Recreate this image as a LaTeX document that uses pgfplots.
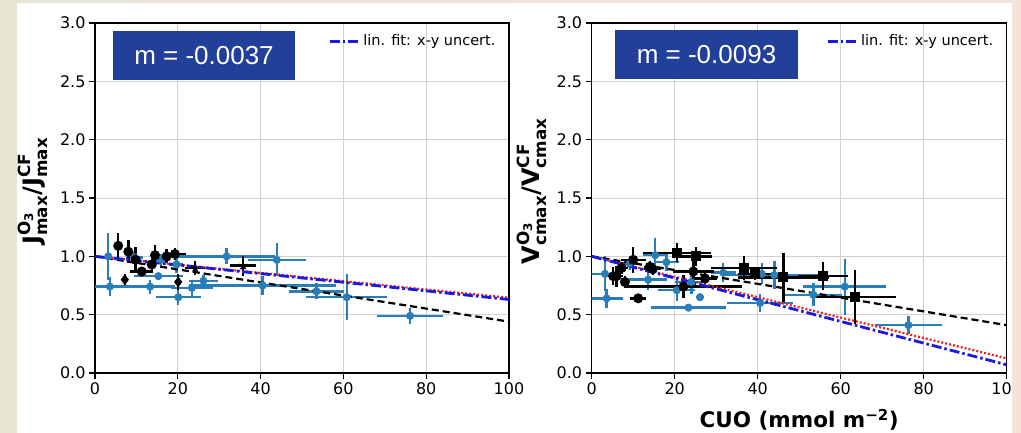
\documentclass[border=0pt]{standalone}
\usepackage{amsmath}
\usepackage{fontspec}
\setmainfont{DejaVu Sans}
\newfontfamily\arialfont{Liberation Sans}
\usepackage{pgfplots}
\pgfplotsset{compat=1.18}
\usepackage{pgfplotstable}

\definecolor{bgL}{RGB}{232,229,213}
\definecolor{bgR}{RGB}{243,227,216}
\definecolor{boxblue}{RGB}{34,64,154}
\definecolor{ptblue}{RGB}{41,125,185}
\definecolor{fitblue}{RGB}{25,25,225}
\definecolor{fitred}{RGB}{240,30,30}

% ---- left panel data (x, y, x error, y error)
\pgfplotstableread{
x y ex ey
3.2 1.00 0.5 0.20
3.6 0.74 6.0 0.08
9.5 0.99 2.0 0.05
13.3 0.74 6.0 0.06
15.3 0.83 6.0 0.03
16.0 0.97 2.0 0.05
19.7 0.93 1.5 0.07
20.1 0.65 5.4 0.07
23.4 0.73 5.0 0.07
26.2 0.79 3.5 0.05
31.8 1.00 11.7 0.07
43.9 0.97 7.0 0.14
40.5 0.75 17.7 0.08
53.5 0.70 6.6 0.07
60.8 0.65 9.8 0.20
76.1 0.49 8.0 0.07
}\LblueTab
\pgfplotstableread{
x y ex ey
5.6 1.09 0 0.11
8.05 1.04 0 0.10
9.8 0.97 0 0.11
11.3 0.87 2.8 0.04
13.7 0.93 0 0.05
14.5 1.01 0 0.085
17.3 1.00 0 0.06
19.3 1.02 2.8 0.05
}\LblackCirc
\pgfplotstableread{
x y ex ey
7.2 0.80 0 0.05
20.1 0.78 0 0.07
}\LblackDiam
\pgfplotstableread{
x y ex ey
24.2 0.90 2.4 0.06
35.8 0.92 3.2 0.085
}\LblackStar

% ---- right panel data
\pgfplotstableread{
x y ex ey
3.2 0.85 3.5 0.15
3.6 0.64 4.0 0.08
9.2 0.94 2.0 0.06
13.6 0.80 4.5 0.09
15.3 1.01 3.0 0.15
18.0 0.95 3.0 0.08
20.5 0.71 4.5 0.09
23.3 0.56 9.0 0.03
24.0 0.78 4.0 0.10
26.1 0.65 1.0 0.03
31.7 0.86 3.0 0.08
41.0 0.85 3.0 0.09
44.0 0.84 12.0 0.12
40.6 0.60 8.0 0.08
53.4 0.67 7.0 0.10
61.0 0.74 10.0 0.24
76.3 0.41 8.0 0.08
}\RblueTab
\pgfplotstableread{
x y ex ey
5.2 0.83 1.5 0.08
6.0 0.83 1.5 0.09
7.2 0.90 1.5 0.05
8.0 0.78 1.0 0.05
11.2 0.64 2.0 0.03
10.0 0.97 3.0 0.11
14.0 0.91 1.5 0.05
14.7 0.89 2.0 0.05
22.1 0.74 14.0 0.10
24.5 0.87 5.0 0.10
27.3 0.81 3.0 0.06
}\RblackCirc
\pgfplotstableread{
x y ex ey
20.5 1.03 8.2 0.08
25.1 1.00 4.0 0.08
36.7 0.90 8.0 0.10
39.3 0.85 4.0 0.05
46.2 0.82 11.0 0.21
55.8 0.83 6.0 0.12
63.4 0.65 10.0 0.23
}\RblackSq

\pgfplotsset{
  panel/.style={
    scale only axis, width=414pt, height=350pt,
    xmin=0, xmax=100, ymin=0, ymax=3,
    xtick={0,20,40,60,80,100}, ytick={0,0.5,1,1.5,2,2.5,3},
    yticklabel style={/pgf/number format/fixed, /pgf/number format/precision=1, /pgf/number format/fixed zerofill},
    /pgf/number format/assume math mode=true,
    ticklabel style={font=\fontsize{16}{16}\selectfont},
    tick align=outside, tick pos=left,
    major tick length=6pt,
    tick style={line width=1.2pt, black},
    axis line style={line width=1.5pt},
    grid=major, grid style={line width=0.8pt, color=black!18},
    legend style={draw=none, fill=none, anchor=north east,
      at={(rel axis cs:0.975,0.975)},
      font=\fontsize{14.5}{16}\selectfont, inner sep=1pt},
    legend image code/.code={\draw[##1] (0pt,0pt) -- (30pt,0pt);},
    xlabel style={font=\fontsize{21.5}{24}\selectfont\bfseries},
    ylabel style={font=\fontsize{24}{28}\selectfont\bfseries},
  },
  bluepts/.style={forget plot, only marks, mark=*, mark size=3.8pt, color=ptblue,
    mark options={fill=ptblue, draw=ptblue},
    error bars/.cd, x dir=both, x explicit, y dir=both, y explicit,
    error mark=none, error bar style={line width=2.4pt, ptblue}},
  blackpts/.style={forget plot, only marks, mark=#1, mark size=4.3pt, color=black,
    mark options={fill=black, draw=black, line width=1.4pt},
    error bars/.cd, x dir=both, x explicit, y dir=both, y explicit,
    error mark=none, error bar style={line width=2.4pt, black}},
  fitb/.style={fitblue, line width=2.8pt, dash pattern=on 10pt off 3pt on 2.5pt off 3pt},
  fitr/.style={forget plot, fitred, line width=2.2pt, dash pattern=on 2pt off 2pt},
  fitk/.style={forget plot, black, line width=2.2pt, dash pattern=on 7pt off 4pt},
}

\begin{document}
\begin{tikzpicture}
\useasboundingbox (0pt,0pt) rectangle (1021pt,433pt);
\shade[left color=bgL, right color=bgR] (0pt,0pt) rectangle (1021pt,433pt);
\fill[white] (17pt,0pt) rectangle (1012pt,430pt);

% ---------- left panel
\begin{axis}[panel, at={(95pt,60pt)}, anchor=south west,
  ylabel={$\text{J}^{\text{O}_{\text{3}}}_{\text{max}}\text{/}\text{J}^{\text{CF}}_{\text{max}}$},
  ylabel style={at={(rel axis cs:-0.151,0.52)}, anchor=center},
]
\addplot[bluepts] table[x=x, y=y, x error=ex, y error=ey] {\LblueTab};
\addplot[blackpts=*] table[x=x, y=y, x error=ex, y error=ey] {\LblackCirc};
\addplot[blackpts=diamond*] table[x=x, y=y, x error=ex, y error=ey] {\LblackDiam};
\addplot[blackpts=star] table[x=x, y=y, x error=ex, y error=ey] {\LblackStar};
\addplot[fitk] coordinates {(0,1) (100,0.44)};
\addplot[fitr] coordinates {(0,1) (100,0.645)};
\addplot[fitb] coordinates {(0,1) (100,0.63)};
\addlegendentry{lin. fit: x-y uncert.}
\end{axis}

% ---------- right panel
\begin{axis}[panel, at={(591.7pt,60pt)}, anchor=south west, width=415pt,
  ylabel={$\text{V}^{\text{O}_{\text{3}}}_{\text{cmax}}\text{/}\text{V}^{\text{CF}}_{\text{cmax}}$},
  ylabel style={at={(rel axis cs:-0.145,0.52)}, anchor=center},
  xlabel={CUO (mmol m\textsuperscript{−2})},
  xlabel style={at={(rel axis cs:0.5,0)}, anchor=base, yshift=-55pt},
]
\addplot[bluepts] table[x=x, y=y, x error=ex, y error=ey] {\RblueTab};
\addplot[blackpts=*] table[x=x, y=y, x error=ex, y error=ey] {\RblackCirc};
\addplot[blackpts=square*] table[x=x, y=y, x error=ex, y error=ey] {\RblackSq};
\addplot[fitk] coordinates {(0,1) (100,0.41)};
\addplot[fitr] coordinates {(0,1) (100,0.125)};
\addplot[fitb] coordinates {(0,1) (100,0.07)};
\addlegendentry{lin. fit: x-y uncert.}
\end{axis}

% annotation boxes
\node[fill=boxblue, text=white, minimum width=182pt, minimum height=49pt, inner sep=0pt]
  at (204pt,377.5pt) {\arialfont\fontsize{26}{26}\selectfont m = -0.0037};
\node[fill=boxblue, text=white, minimum width=183pt, minimum height=49pt, inner sep=0pt]
  at (706.5pt,378.5pt) {\arialfont\fontsize{26}{26}\selectfont m = -0.0093};

% slide edge on the right
\begin{scope}
\clip (1012pt,0pt) rectangle (1021pt,433pt);
\shade[left color=bgL, right color=bgR] (0pt,0pt) rectangle (1021pt,433pt);
\end{scope}
\end{tikzpicture}
\end{document}
